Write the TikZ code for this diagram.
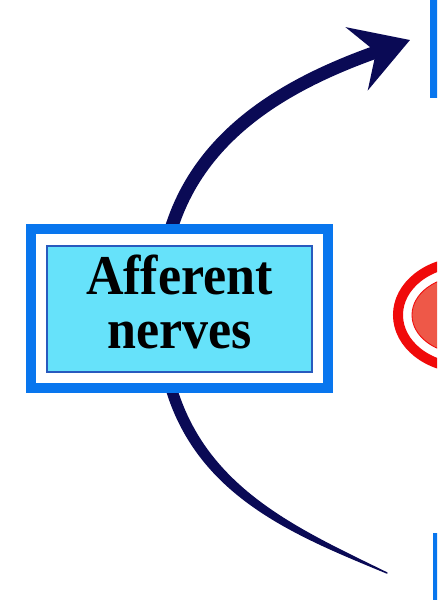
\documentclass[tikz,border=0pt]{standalone}
\usepackage{fontspec}
\setmainfont{Liberation Serif}
\usepackage{xcolor}
\definecolor{nvframe}{RGB}{8,118,238}
\definecolor{nvcyan}{RGB}{102,226,250}
\definecolor{nvedge}{RGB}{40,90,190}
\definecolor{nvnavy}{RGB}{10,10,85}
\definecolor{nvred}{RGB}{240,10,10}
\definecolor{nvsalmon}{RGB}{238,88,72}
\usetikzlibrary{arrows.meta, shapes.geometric}

\begin{document}
\begin{tikzpicture}[x=0.025cm, y=-0.025cm,
  frame/.style={draw=nvframe, fill=white, line width=0.25cm, inner sep=0pt}]

\useasboundingbox (0,0) rectangle (437,600);
\clip (0,0) rectangle (437,600);

% === End points of the nerve path ===
\coordinate (tail) at (387,573);
\coordinate (mid) at (160,306);
\coordinate (head) at (410,40);

% === Right-hand boxes (cut off by the page edge) ===
\node[frame, minimum width=5cm, minimum height=2.65cm] (upper) at (535,40) {};
\node[frame, minimum width=5cm, minimum height=3.1cm] (lower) at (538,600) {};

% Red ellipse
\node[ellipse, draw=nvred, fill=white, line width=0.25cm, inner sep=0pt,
      minimum width=3.35cm, minimum height=2.65cm] (ring) at (465,315) {};
\node[ellipse, draw=nvred, fill=nvsalmon, line width=0.6pt, inner sep=0pt,
      minimum width=2.65cm, minimum height=1.95cm] (blob) at (465,315) {};

% === Nerve path: thin tail below, thick arrow above ===
\filldraw[nvnavy, line width=1pt, line join=round]
  (tail) .. controls (276,527) and (155,480) .. (155,306)
  -- (165,306) .. controls (165,472) and (279,520) .. (tail) -- cycle;
\draw[nvnavy, line width=0.325cm, -{Stealth[length=1.4cm, width=1.65cm, inset=0.5cm]}]
  (mid) .. controls (160,156) and (268,90) .. (head);

% === Afferent nerves box ===
\node[frame, minimum width=7.425cm, minimum height=3.975cm] (affframe) at (179.5,308.5) {};
\node[draw=nvedge, fill=nvcyan, line width=0.8pt, inner sep=0pt,
      minimum width=6.625cm, minimum height=3.15cm] (afferent) at (179.5,309) {};
\node[align=center, inner sep=0pt, font=\fontsize{37}{38.4}\selectfont\bfseries]
  (afftext) at (179.5,302) {\scalebox{1}[1.08]{Afferent}\\\scalebox{1}[1.08]{nerves}};

\end{tikzpicture}
\end{document}
